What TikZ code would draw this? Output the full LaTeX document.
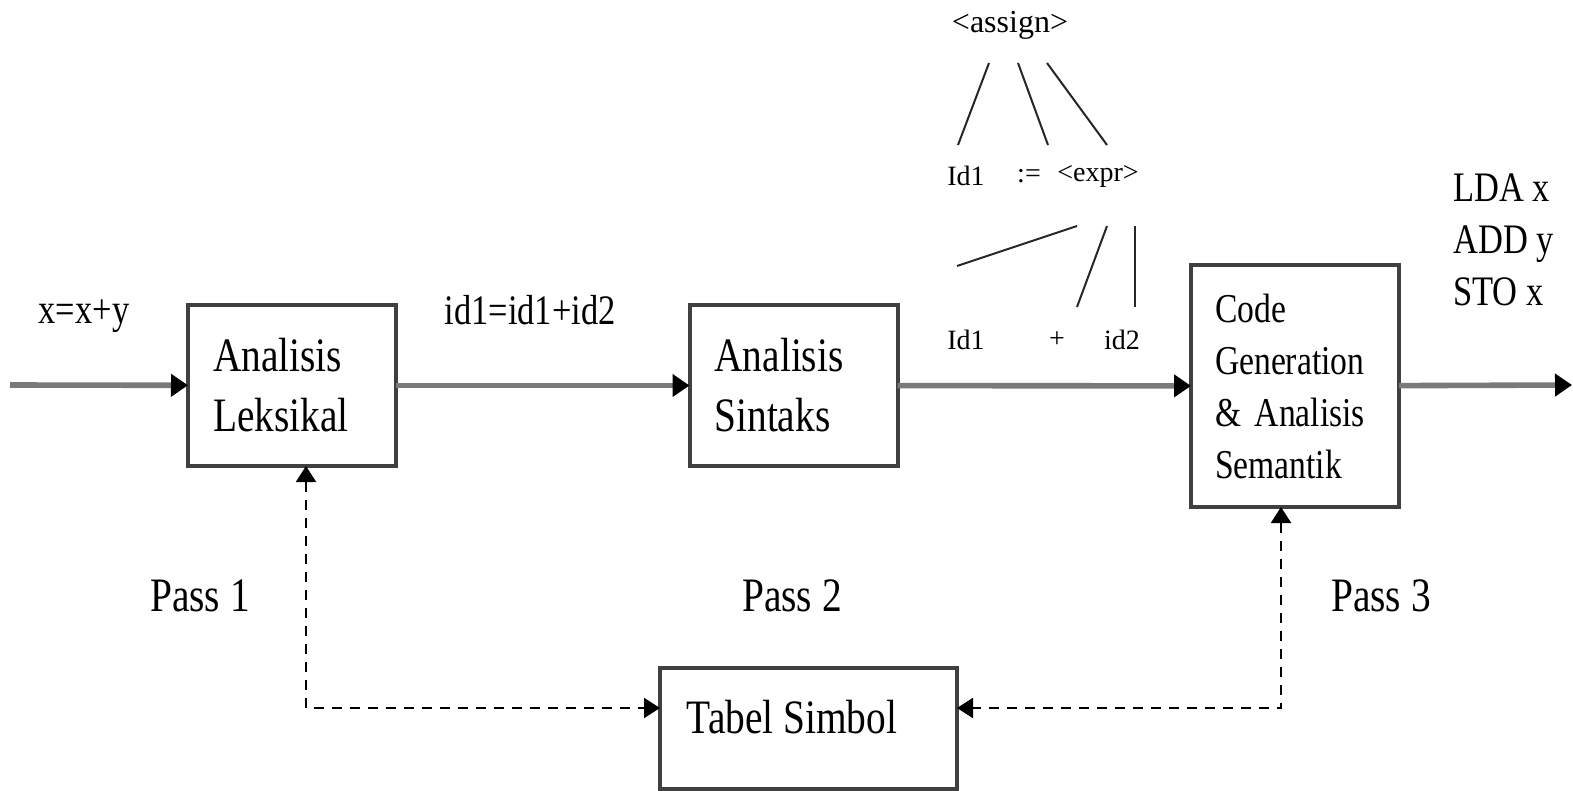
\documentclass[tikz,border=0pt]{standalone}
\usepackage{fontspec}
\setmainfont{Liberation Serif}[FakeStretch=0.82]
\newfontfamily\treefont{Liberation Serif}
\usetikzlibrary{arrows.meta}
\definecolor{boxline}{HTML}{404040}
\definecolor{flowline}{HTML}{7A7A7A}
\begin{document}
\begin{tikzpicture}[x=0.5pt,y=-0.5pt,
  tip/.style={-{Triangle[length=8.5pt,width=11pt,color=black]}},
  procbox/.style={draw=boxline,line width=2pt,inner sep=0pt,outer sep=0pt,minimum width=104pt,align=left,text width=79pt},
  flow/.style={draw=flowline,line width=2.8pt,tip},
  dashlink/.style={draw=black,line width=1pt,dash pattern=on 5pt off 4pt,{Triangle[length=8pt,width=10pt]}-{Triangle[length=8pt,width=10pt]}},
  bigtext/.style={font=\fontsize{24}{30}\selectfont,inner sep=0pt},
  midtext/.style={font=\fontsize{21}{26}\selectfont,inner sep=0pt},
  treetext/.style={font=\treefont\fontsize{14}{16}\selectfont,inner sep=0pt},
  treeline/.style={draw=black!85,line width=1pt}]
\useasboundingbox (0,0) rectangle (1573,791);

% process boxes
\node[procbox,minimum height=80.5pt,font=\fontsize{24}{30}\selectfont] (lek) at (292,385.5) {Analisis\\Leksikal};
\node[procbox,minimum height=80.5pt,font=\fontsize{24}{30}\selectfont] (sin) at (793.5,385.5) {Analisis\\Sintaks};
\node[procbox,minimum height=121pt,text width=80pt,font=\fontsize{20.5}{26}\selectfont] (cg) at (1295,386) {Code\\Generation\\\& Analisis\\Semantik};
\node[draw=boxline,line width=2pt,inner sep=0pt,outer sep=0pt,minimum width=148.5pt,minimum height=60.5pt] (tab) at (808.5,728.5) {};
\node[bigtext] (tabtxt) at (792,717) {Tabel Simbol};

% main flow
\coordinate (in) at (10,385);
\coordinate (out) at (1572,385);
\draw[flow] (in) -- (lek);
\draw[flow] (lek) -- (sin);
\draw[flow] (sin) -- (cg);
\draw[flow] (cg) -- (out);

% symbol table links
\draw[dashlink] ([xshift=7pt]lek.south) |- ([yshift=10.25pt]tab.west);
\draw[dashlink] ([xshift=-7pt]cg.south) |- ([yshift=10.25pt]tab.east);

% labels
\node[midtext] (src) at (84,316) {x=x+y};
\node[midtext] (tok) at (530,310) {id1=id1+id2};
\node[bigtext] (p1) at (200,596) {Pass 1};
\node[bigtext] (p2) at (792,596) {Pass 2};
\node[bigtext] (p3) at (1381,596) {Pass 3};
\node[midtext,align=left,anchor=west] (asm) at (1453,240) {LDA x\\ADD y\\STO x};

% parse tree
\node[treetext,font=\treefont\fontsize{16}{18}\selectfont] (assign) at (1010,25) {<assign>};
\node[treetext] (ida) at (966,176) {Id1};
\node[treetext] (becomes) at (1029,176) {:=};
\node[treetext] (expr) at (1098,176) {<expr>};
\node[treetext] (idb) at (966,340) {Id1};
\node[treetext] (plus) at (1057,340) {+};
\node[treetext] (idc) at (1122,340) {id2};
\coordinate (a1) at (989,63);  \coordinate (a2) at (958,145);
\coordinate (b1) at (1018,63); \coordinate (b2) at (1048,145);
\coordinate (c1) at (1047,63); \coordinate (c2) at (1107,145);
\coordinate (d1) at (1077,226); \coordinate (d2) at (957,266);
\coordinate (e1) at (1107,226); \coordinate (e2) at (1077,307);
\coordinate (f1) at (1135,226); \coordinate (f2) at (1135,307);
\draw[treeline] (a1) -- (a2);
\draw[treeline] (b1) -- (b2);
\draw[treeline] (c1) -- (c2);
\draw[treeline] (d1) -- (d2);
\draw[treeline] (e1) -- (e2);
\draw[treeline] (f1) -- (f2);
\end{tikzpicture}
\end{document}
